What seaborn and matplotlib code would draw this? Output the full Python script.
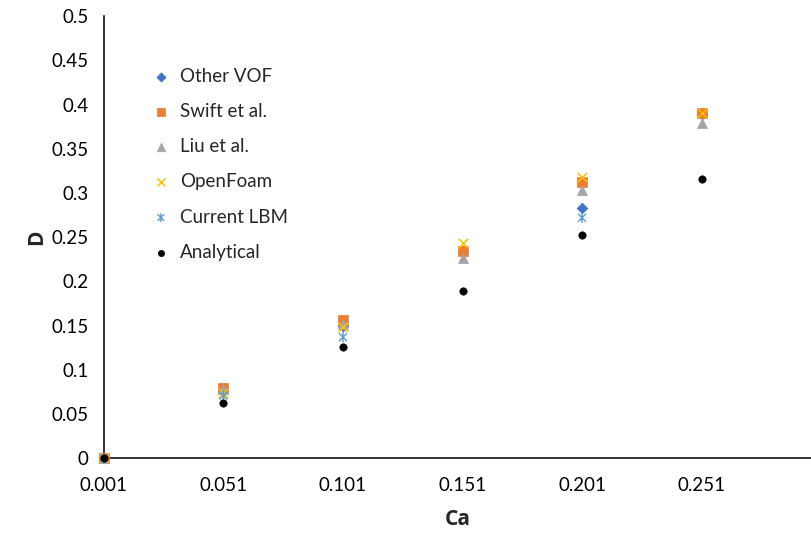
import matplotlib
matplotlib.use("Agg")
import matplotlib.pyplot as plt
import seaborn as sns
import numpy as np
from matplotlib.path import Path
from matplotlib.markers import MarkerStyle

# Capillary number and deformation values for each method
ca = [0.001, 0.051, 0.101, 0.151, 0.201, 0.251]
other_vof = [0.0, 0.076, 0.150, 0.235, 0.283, 0.389]
swift = [0.0, 0.080, 0.156, 0.235, 0.312, 0.390]
liu = [0.0, 0.078, 0.152, 0.227, 0.303, 0.379]
openfoam = [0.0, 0.074, 0.149, 0.244, 0.318, 0.390]
current_lbm = [0.0, 0.071, 0.137, np.nan, 0.272, np.nan]
analytical = [0.0, 0.063, 0.126, 0.189, 0.253, 0.316]

xticks = [0.001, 0.051, 0.101, 0.151, 0.201, 0.251]
yticks = [0, 0.05, 0.1, 0.15, 0.2, 0.25, 0.3, 0.35, 0.4, 0.45, 0.5]

sns.set_style("white")
plt.rcParams["font.family"] = ["Lato", "DejaVu Sans"]

# asterisk marker: diagonal cross plus a vertical bar
star_path = Path(
    [(-1, -1), (1, 1), (-1, 1), (1, -1), (0, -1.3), (0, 1.3)],
    [Path.MOVETO, Path.LINETO, Path.MOVETO, Path.LINETO, Path.MOVETO, Path.LINETO],
)
star_marker = MarkerStyle(star_path)

fig = plt.figure(figsize=(8.11, 5.37), dpi=100)
ax = fig.add_axes([0.1282, 0.1462, 0.8718, 0.824])

series = [
    ("Other VOF", other_vof, "D", "#4472C4", 30, "fill"),
    ("Swift et al.", swift, "s", "#ED7D31", 52, "fill"),
    ("Liu et al.", liu, "^", "#A5A5A5", 52, "fill"),
    ("OpenFoam", openfoam, "x", "#FFC000", 45, "line"),
    ("Current LBM", current_lbm, star_marker, "#5B9BD5", 55, "path"),
    ("Analytical", analytical, "o", "#000000", 28, "fill"),
]

for i, (name, vals, mk, col, size, kind) in enumerate(series):
    if kind == "fill":
        sns.scatterplot(x=ca, y=vals, marker=mk, color=col, s=size,
                        edgecolor=col, linewidth=0.5, label=name, ax=ax,
                        zorder=3 + i, clip_on=False)
    elif kind == "line":
        sns.scatterplot(x=ca, y=vals, marker=mk, color=col, s=size,
                        linewidth=1.1, label=name, ax=ax,
                        zorder=3 + i, clip_on=False)
    else:
        sns.scatterplot(x=ca, y=vals, marker=mk, facecolor="none",
                        edgecolor=col, s=size, linewidth=1.0, label=name,
                        ax=ax, zorder=3 + i, clip_on=False)

ax.set_xlim(0.001, 0.2968)
ax.set_ylim(0, 0.5)
ax.set_xticks(xticks)
ax.set_xticklabels([f"{v:.3f}" for v in xticks])
ax.set_yticks(yticks)
ax.set_yticklabels(["0"] + [f"{v:g}" for v in yticks[1:]])

for side in ["top", "right"]:
    ax.spines[side].set_visible(False)
for side in ["left", "bottom"]:
    ax.spines[side].set_color("#000000")
    ax.spines[side].set_linewidth(1.1)

ax.tick_params(axis="both", which="major", direction="out", length=5,
               width=1.0, color="#444444", labelsize=13.5, labelcolor="#000000")
ax.tick_params(axis="x", pad=8)
ax.tick_params(axis="y", pad=6)

label_font = dict(family=["Open Sans", "DejaVu Sans"], fontsize=15, fontweight="bold")
ax.set_xlabel("Ca", labelpad=11, **label_font)
ax.set_ylabel("D", labelpad=3, **label_font)

leg = ax.legend(loc="upper left", bbox_to_anchor=(0.054, 0.9), frameon=False,
                fontsize=13.5, labelspacing=0.97, handletextpad=0.4,
                borderaxespad=0, handlelength=1.2, markerscale=0.85)
# keep the asterisk legend handle drawn in its edge colour
for h, (name, vals, mk, col, size, kind) in zip(leg.legend_handles, series):
    if kind == "path":
        h.set_edgecolor(col)
        h.set_facecolor("none")

fig.savefig("out.png", dpi=100)
